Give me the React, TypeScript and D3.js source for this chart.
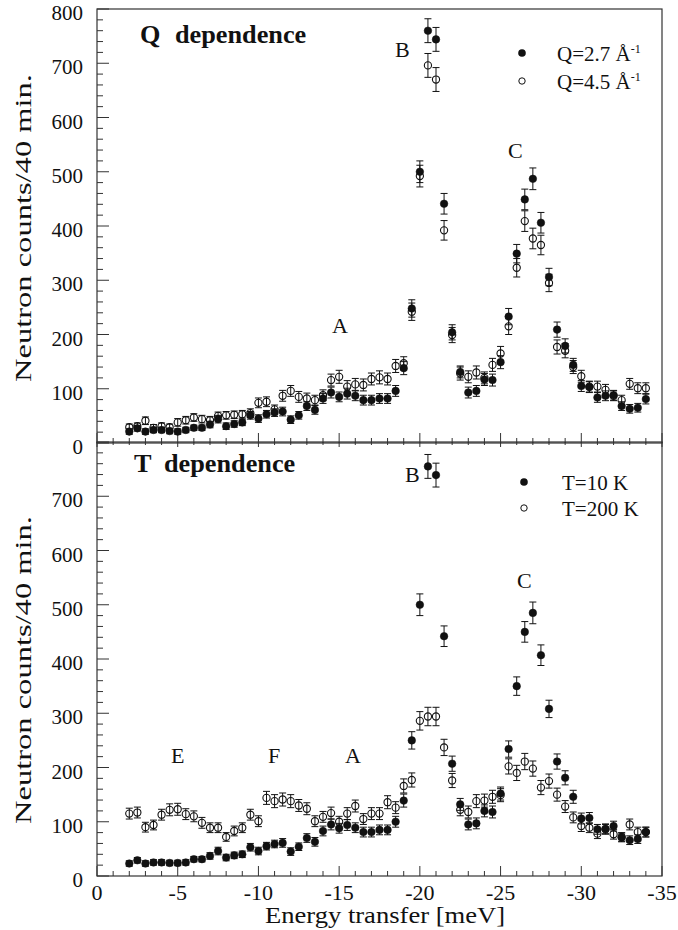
import React, { useEffect, useRef } from "react";
import * as d3 from "d3";

// energy transfer in meV (plotted as negative values)
const energy = [
  -2, -2.5, -3, -3.5, -4, -4.5, -5, -5.5, -6, -6.5, -7, -7.5, -8, -8.5, -9, -9.5,
  -10, -10.5, -11, -11.5, -12, -12.5, -13, -13.5, -14, -14.5, -15, -15.5, -16, -16.5,
  -17, -17.5, -18, -18.5, -19, -19.5, -20, -20.5, -21, -21.5, -22, -22.5, -23, -23.5,
  -24, -24.5, -25, -25.5, -26, -26.5, -27, -27.5, -28, -28.5, -29, -29.5, -30, -30.5,
  -31, -31.5, -32, -32.5, -33, -33.5, -34,
];

// Q dependence
const countsQ27 = [
  21, 27, 21, 24, 24, 22, 21, 24, 28, 28, 34, 44, 31, 35, 38, 51, 45, 53, 56, 58, 43, 51,
  68, 61, 82, 93, 85, 91, 87, 79, 79, 82, 82, 96, 138, 248, 500, 760, 744, 441, 204, 131,
  93, 96, 117, 116, 149, 233, 349, 449, 487, 406, 306, 209, 179, 144, 105, 103, 84, 87,
  88, 68, 63, 65, 81,
];
const errQ27 = [
  5, 5, 5, 5, 5, 5, 5, 5, 5, 5, 6, 7, 6, 6, 6, 7, 7, 7, 7, 8, 7, 7, 8, 8, 9, 10, 9, 10, 9,
  9, 9, 9, 9, 10, 12, 16, 20, 22, 22, 19, 14, 11, 10, 10, 11, 11, 12, 15, 17, 19, 20, 19,
  16, 14, 13, 12, 10, 10, 9, 9, 9, 8, 8, 8, 9,
];
const countsQ45 = [
  29, 31, 41, 28, 31, 29, 38, 42, 47, 44, 42, 50, 51, 52, 53, 55, 74, 76, 62, 87, 96, 85,
  82, 79, 88, 116, 122, 104, 108, 107, 118, 121, 118, 142, 147, 242, 492, 696, 670, 392,
  199, 128, 122, 130, 120, 144, 165, 215, 323, 409, 377, 365, 295, 177, 170, 140, 123,
  104, 104, 98, 87, 79, 109, 101, 101,
];
const errQ45 = [
  6, 6, 7, 6, 6, 6, 7, 7, 7, 7, 7, 7, 7, 7, 7, 8, 9, 9, 8, 10, 10, 10, 10, 9, 10, 11, 12,
  11, 11, 11, 11, 12, 11, 12, 12, 16, 20, 22, 22, 18, 14, 12, 11, 12, 11, 12, 13, 15, 17,
  19, 19, 18, 16, 13, 13, 12, 11, 10, 10, 10, 9, 9, 10, 10, 10,
];

// T dependence
const countsT10 = [
  23, 29, 23, 25, 25, 24, 24, 25, 31, 31, 37, 46, 34, 38, 40, 53, 46, 55, 59, 61, 45, 54,
  70, 63, 83, 95, 88, 94, 89, 81, 81, 85, 85, 100, 139, 250, 500, 755, 739, 442, 207, 132,
  95, 97, 120, 118, 152, 234, 350, 450, 485, 407, 308, 211, 181, 146, 106, 107, 86, 87,
  92, 71, 66, 68, 81,
];
const errT10 = [
  5, 5, 5, 5, 5, 5, 5, 5, 5, 5, 6, 7, 6, 6, 6, 7, 7, 7, 7, 8, 7, 7, 8, 8, 9, 10, 9, 10, 9,
  9, 9, 9, 9, 10, 12, 16, 20, 22, 22, 19, 14, 11, 10, 10, 11, 11, 12, 15, 17, 19, 20, 19,
  16, 14, 13, 12, 10, 10, 9, 9, 9, 8, 8, 8, 9,
];
const countsT200 = [
  115, 117, 90, 94, 113, 122, 123, 114, 110, 98, 89, 89, 72, 83, 89, 113, 101, 144, 138,
  141, 138, 130, 124, 101, 109, 116, 100, 115, 129, 105, 115, 115, 136, 126, 166, 177,
  286, 294, 294, 237, 176, 122, 118, 138, 139, 146, 149, 202, 190, 211, 198, 163, 175,
  150, 128, 108, 92, 89, 78, 86, 77, 72, 95, 81, 81,
];
const errT200 = [
  10, 10, 9, 9, 10, 11, 11, 10, 10, 10, 9, 9, 8, 9, 9, 10, 10, 12, 12, 12, 12, 11, 11,
  10, 10, 11, 10, 11, 11, 10, 11, 11, 12, 11, 13, 13, 17, 17, 17, 15, 13, 11, 11, 12, 12,
  12, 12, 14, 14, 15, 14, 13, 13, 12, 11, 10, 10, 9, 9, 9, 9, 8, 10, 9, 9,
];

const yTicks = [0, 100, 200, 300, 400, 500, 600, 700, 800];
const xTicks = [0, -5, -10, -15, -20, -25, -30, -35];

const panels = [
  {
    title: ["Q", "dependence"],
    filled: countsQ27, filledErr: errQ27, open: countsQ45, openErr: errQ45,
    legend: ["Q=2.7 Å", "Q=4.5 Å"], legendSup: true,
    peaks: [["B", 395, 57], ["C", 508, 158], ["A", 332, 333]],
  },
  {
    title: ["T", "dependence"],
    filled: countsT10, filledErr: errT10, open: countsT200, openErr: errT200,
    legend: ["T=10 K", "T=200 K"], legendSup: false,
    peaks: [["B", 405, 482], ["C", 517, 588], ["E", 171, 763], ["F", 268, 763], ["A", 345, 763]],
  },
];

const FONT = "Liberation Serif, Times New Roman, Times, serif";

export default function App() {
  const svgRef = useRef<SVGSVGElement | null>(null);

  useEffect(() => {
    const svg = d3.select(svgRef.current);
    svg.selectAll("*").remove();

    const left = 97, right = 662;
    const x = d3.scaleLinear().domain([0, -35]).range([left, right]);
    const yTop = d3.scaleLinear().domain([0, 800]).range([443, 9]);
    const yBot = d3.scaleLinear().domain([0, 800]).range([876, 442]);
    const ys = [yTop, yBot];

    const stretchText = (g: any, str: string, tx: number, ty: number, size: number, anchor: string, sx = 1.1, weight = "normal") =>
      g.append("text")
        .attr("transform", `translate(${tx},${ty}) scale(${sx},1)`)
        .attr("text-anchor", anchor)
        .attr("font-family", FONT)
        .attr("font-size", size)
        .attr("font-weight", weight)
        .attr("fill", "#111")
        .text(str);

    panels.forEach((p, pi) => {
      const y = ys[pi];
      const g = svg.append("g");
      const [y0, y1] = y.range();

      // frame
      g.append("rect")
        .attr("x", left).attr("y", y1)
        .attr("width", right - left).attr("height", y0 - y1)
        .attr("fill", "none").attr("stroke", "#333").attr("stroke-width", 1.2);

      // y ticks (inward)
      d3.range(0, 801, 20).forEach(v => {
        const major = v % 100 === 0;
        g.append("line")
          .attr("x1", left).attr("x2", left + (major ? 12 : 6))
          .attr("y1", y(v)).attr("y2", y(v))
          .attr("stroke", "#333").attr("stroke-width", 1);
      });
      // x ticks (inward from bottom)
      d3.range(0, -35.5, -1).forEach(v => {
        const major = v % 5 === 0;
        g.append("line")
          .attr("x1", x(v)).attr("x2", x(v))
          .attr("y1", y0).attr("y2", y0 - (major ? 10 : 5))
          .attr("stroke", "#333").attr("stroke-width", 1);
        if (pi === 1) {
          g.append("line")
            .attr("x1", x(v)).attr("x2", x(v))
            .attr("y1", y1).attr("y2", y1 + (major ? 5 : 3))
            .attr("stroke", "#333").attr("stroke-width", 1);
        }
      });

      // y tick labels
      yTicks.forEach(v => {
        if (pi === 1 && v === 800) return;
        stretchText(g, String(v), 83, y(v) + 11, 20, "end", 1.05);
      });

      // y axis title
      g.append("text")
        .attr("transform", `translate(31,${pi === 0 ? 228 : 670}) rotate(-90)`)
        .attr("text-anchor", "middle")
        .attr("font-family", FONT)
        .attr("font-size", 23)
        .attr("textLength", 308)
        .attr("lengthAdjust", "spacingAndGlyphs")
        .attr("fill", "#111")
        .text("Neutron counts/40 min.");

      // panel title
      const ty = pi === 0 ? 43 : 472;
      stretchText(g, p.title[0], pi === 0 ? 140 : 134, ty, 25, "start", 1.05, "bold");
      stretchText(g, p.title[1], pi === 0 ? 175 : 164, ty, 25, "start", 1.05, "bold");

      // peak letters
      p.peaks.forEach(([s, px, py]) => stretchText(g, s as string, px as number, py as number, 21, "start", 1.05));

      // legend
      const lx = pi === 0 ? 522 : 524;
      const ly = pi === 0 ? [53, 81] : [482, 508];
      const tx = pi === 0 ? 557 : 562;
      g.append("circle").attr("cx", lx).attr("cy", ly[0]).attr("r", 3.8).attr("fill", "#111");
      g.append("circle").attr("cx", lx).attr("cy", ly[1]).attr("r", 3.2)
        .attr("fill", "none").attr("stroke", "#111").attr("stroke-width", 1);
      p.legend.forEach((s, i) => {
        const t = stretchText(g, s, tx, ly[i] + 8, 21, "start", 1.0);
        if (p.legendSup) {
          t.append("tspan").attr("font-size", 12).attr("dy", -8).text("-1");
        }
      });

      // data: error bars then symbols
      const drawSeries = (vals: number[], errs: number[], filled: boolean) => {
        const sg = g.append("g");
        vals.forEach((v, i) => {
          const cx = x(energy[i]);
          const lo = y(v - errs[i]), hi = y(v + errs[i]);
          sg.append("line").attr("x1", cx).attr("x2", cx).attr("y1", lo).attr("y2", hi)
            .attr("stroke", "#111").attr("stroke-width", 1);
          [lo, hi].forEach(yy =>
            sg.append("line").attr("x1", cx - 3.5).attr("x2", cx + 3.5).attr("y1", yy).attr("y2", yy)
              .attr("stroke", "#111").attr("stroke-width", 1));
        });
        sg.selectAll("circle.pt")
          .data(vals)
          .enter()
          .append("circle")
          .attr("cx", (_, i) => x(energy[i]))
          .attr("cy", d => y(d))
          .attr("r", filled ? 3.8 : 3.6)
          .attr("fill", filled ? "#111" : "none")
          .attr("stroke", "#111")
          .attr("stroke-width", filled ? 0.5 : 1.1);
      };
      drawSeries(p.open, p.openErr, false);
      drawSeries(p.filled, p.filledErr, true);
    });

    // x tick labels and title
    xTicks.forEach(v => stretchText(svg, String(v), x(v), 900, 20, "middle", 1.1));
    svg.append("text")
      .attr("x", 385).attr("y", 923)
      .attr("text-anchor", "middle")
      .attr("font-family", FONT)
      .attr("font-size", 23)
      .attr("textLength", 240)
      .attr("lengthAdjust", "spacingAndGlyphs")
      .attr("fill", "#111")
      .text("Energy transfer [meV]");
  }, []);

  return (
    <svg ref={svgRef} width={678} height={930}
      style={{ position: "absolute", left: 0, top: 0, background: "#fff" }} />
  );
}
